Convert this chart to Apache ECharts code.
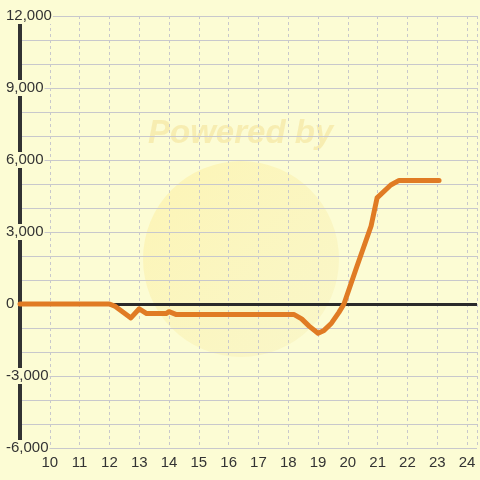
<!DOCTYPE html>
<html>
<head>
<meta charset="utf-8">
<script src="https://cdn.jsdelivr.net/npm/echarts@6/dist/echarts.min.js"></script>
<style>
html,body{margin:0;padding:0;background:#fcfcd4;}
#c{width:480px;height:480px;}
</style>
</head>
<body>
<div id="c"></div>
<script>
// Data
var hours = [9, 10, 11, 12, 12.2, 12.45, 12.72, 13, 13.25, 13.9, 14, 14.25, 15, 16, 17, 18, 18.2, 18.45, 18.7, 19, 19.2, 19.45, 19.7, 19.87, 20.3, 20.78, 20.98, 21.44, 21.72, 22, 22.5, 23.06];
var values = [0, 0, 0, 0, -100, -330, -580, -200, -400, -400, -320, -440, -440, -440, -440, -440, -440, -620, -920, -1220, -1100, -800, -350, 0, 1550, 3250, 4420, 4960, 5150, 5150, 5150, 5150];
var xTicks = [10, 11, 12, 13, 14, 15, 16, 17, 18, 19, 20, 21, 22, 23, 24];
var yTicks = [-6000, -3000, 0, 3000, 6000, 9000, 12000];

var bg = '#fcfcd4';
var gridColor = '#c8c8cc';
var chart = echarts.init(document.getElementById('c'), null, {renderer: 'canvas'});
var lineData = hours.map(function (h, i) { return [h, values[i]]; });

chart.setOption({
  backgroundColor: bg,
  animation: false,
  graphic: [
    {type: 'circle', shape: {cx: 241, cy: 259, r: 98}, z: 0,
     style: {fill: {type: 'linear', x: 0, y: 0, x2: 1, y2: 1, colorStops: [
       {offset: 0, color: 'rgba(255,228,110,0.30)'}, {offset: 1, color: 'rgba(240,228,160,0.22)'}]}}},
    {type: 'text', left: 148, top: 117, z: 0,
     style: {text: 'Powered by', fill: 'rgba(238,212,120,0.38)', font: 'italic bold 33px "Liberation Sans"'}}
  ],
  grid: {left: 20, right: 0, top: 16, bottom: 32, containLabel: false},
  xAxis: {
    type: 'value', min: 9, max: 24 + 1/3, interval: 1,
    axisLine: {show: false}, axisTick: {show: false},
    axisLabel: {
      color: '#333', fontSize: 15, fontFamily: 'Liberation Sans', margin: 7,
      formatter: function (v) { return xTicks.indexOf(v) >= 0 ? String(v) : ''; }
    },
    splitLine: {show: true, lineStyle: {color: gridColor, type: [3, 3], width: 1}}
  },
  yAxis: {
    type: 'value', min: yTicks[0], max: yTicks[yTicks.length - 1], interval: 3000,
    axisLine: {show: true, lineStyle: {color: '#333', width: 4}},
    axisTick: {show: false},
    axisLabel: {
      color: '#333', fontSize: 15, fontFamily: 'Liberation Sans', align: 'left', margin: 15,
      backgroundColor: bg, padding: [1, 1, 0, 1],
      formatter: function (v) { return v.toLocaleString('en-US'); }
    },
    splitLine: {show: true, lineStyle: {color: gridColor, width: 1}},
    minorTick: {show: false, splitNumber: 3},
    minorSplitLine: {show: true, lineStyle: {color: gridColor, width: 1}}
  },
  series: [
    {
      type: 'line', data: [], z: 1,
      markLine: {
        silent: true, symbol: 'none', z: 1, label: {show: false},
        lineStyle: {color: '#2a2a2a', width: 3, type: 'solid'},
        data: [{yAxis: 0}]
      }
    },
    {
      type: 'line', data: lineData, showSymbol: false, smooth: false, z: 3,
      lineStyle: {color: '#e07b24', width: 5, cap: 'round', join: 'round'}
    }
  ]
});
</script>
</body>
</html>
